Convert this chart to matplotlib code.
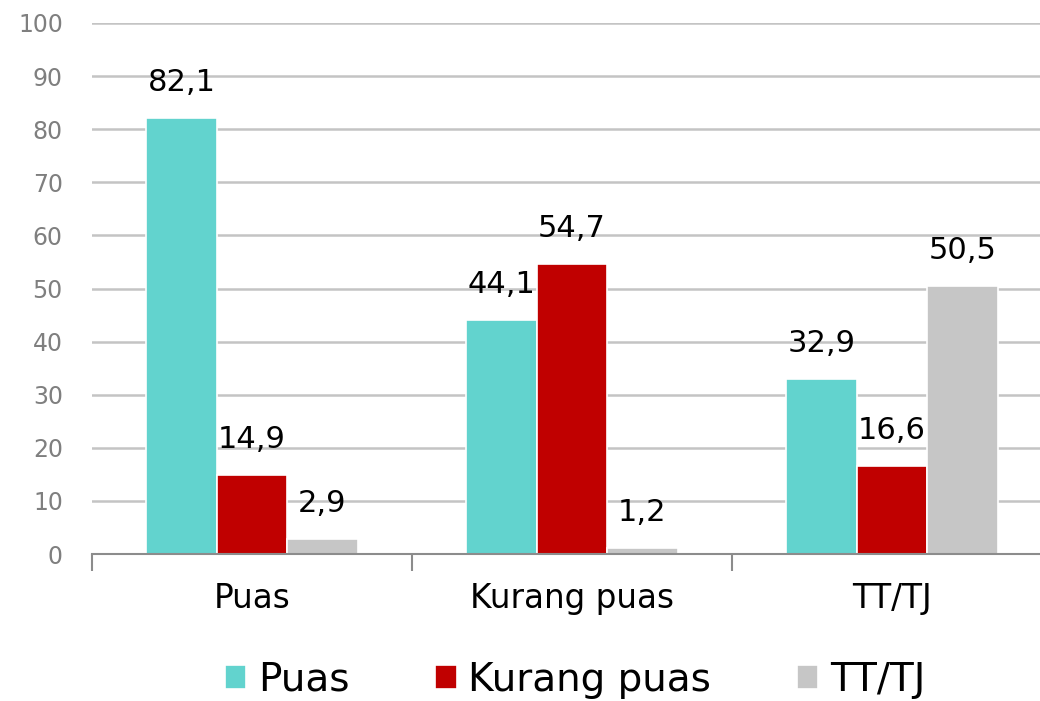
import matplotlib.pyplot as plt
import numpy as np

categories = ['Puas', 'Kurang puas', 'TT/TJ']
series_names = ['Puas', 'Kurang puas', 'TT/TJ']
puas = [82.1, 44.1, 32.9]
kurang_puas = [14.9, 54.7, 16.6]
tt_tj = [2.9, 1.2, 50.5]
colors = ['#62D3CE', '#C00000', '#C6C6C6']

fig = plt.figure(figsize=(10.4, 7.01), dpi=100)
ax = fig.add_axes([92 / 1040, 147 / 701, 960 / 1040, 531 / 701])

x = np.arange(len(categories))
width = 0.22
for i, (vals, name, col) in enumerate(zip([puas, kurang_puas, tt_tj], series_names, colors)):
    bars = ax.bar(x + (i - 1) * width, vals, width=width, color=col,
                  edgecolor='white', linewidth=1.2, label=name, zorder=3)
    for rect, v in zip(bars, vals):
        ax.annotate('{:.1f}'.format(v).replace('.', ','),
                    (rect.get_x() + rect.get_width() / 2, rect.get_height()),
                    xytext=(0, 15), textcoords='offset points',
                    ha='center', va='bottom', fontsize=22, color='black')

ax.set_xlim(-0.5, 2.5)
ax.set_ylim(0, 100)
ax.set_yticks(range(0, 101, 10))
ax.yaxis.grid(True, color='#C4C4C4', linewidth=1.8, zorder=0)
ax.tick_params(axis='y', length=0, pad=21, labelsize=17, labelcolor='#7F7F7F')

# category boundaries as major ticks, labels on minor ticks
ax.set_xticks([-0.5, 0.5, 1.5, 2.5])
ax.set_xticklabels([])
ax.set_xticks(x, minor=True)
ax.set_xticklabels(categories, minor=True)
ax.tick_params(axis='x', which='major', length=12, width=1.5, color='#8C8C8C')
ax.tick_params(axis='x', which='minor', length=0, pad=20, labelsize=23.5)

for s in ['left', 'right', 'top']:
    ax.spines[s].set_visible(False)
ax.spines['bottom'].set_color('#8C8C8C')
ax.spines['bottom'].set_linewidth(1.5)
ax.spines['bottom'].set_zorder(4)

fig.legend(loc='center', bbox_to_anchor=(0.553, 0.03), ncol=3, frameon=False,
           fontsize=28, handlelength=0.55, handleheight=0.55, handletextpad=0.3,
           columnspacing=2.2)

fig.savefig('out.png', dpi=100)
